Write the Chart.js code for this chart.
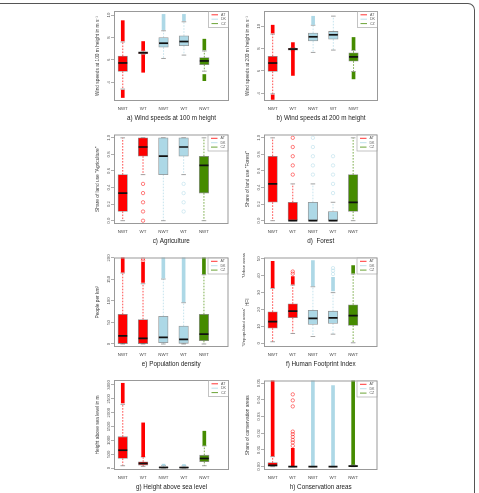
<!DOCTYPE html>
<html>
<head>
<meta charset="utf-8">
<script src="https://cdn.jsdelivr.net/npm/chart.js@4.4.1/dist/chart.umd.min.js"></script>
<style>
  html, body { margin: 0; padding: 0; background: #fff; }
  body { width: 479px; height: 493px; position: relative; overflow: hidden; }
  .frame { position: absolute; left: -20px; top: 3px; width: 495px; height: 520px; box-sizing: border-box;
           border-top: 1.5px solid #555; border-right: 1.5px solid #555; border-top-right-radius: 7px; }
  canvas { position: absolute; }
</style>
</head>
<body>
<div class="frame"></div>
<canvas id="panel-a"></canvas>
<canvas id="panel-b"></canvas>
<canvas id="panel-c"></canvas>
<canvas id="panel-d"></canvas>
<canvas id="panel-e"></canvas>
<canvas id="panel-f"></canvas>
<canvas id="panel-g"></canvas>
<canvas id="panel-h"></canvas>
<script>
const groups = ['NWT', 'WT', 'NWT', 'WT', 'NWT'];
const groupCountry = ['AT', 'AT', 'DK', 'DK', 'CZ'];
const countries = ['AT', 'DK', 'CZ'];

// box: [lower whisker, q1, median, q3, upper whisker] per group
// dense: [group, from, to] -> outliers so packed they read as a solid run
// pts: [group, value] -> single outliers

// a) wind speed 100 m
const windA_box = [
  [3.4, 4.97, 5.73, 6.34, 7.6],
  [6.5, 6.55, 6.64, 6.73, 6.8],
  [6.13, 7.13, 7.49, 8.0, 8.6],
  [6.43, 7.27, 7.64, 8.15, 9.4],
  [5.0, 5.58, 5.91, 6.22, 6.8]
];
const windA_dense = [[0, 7.7, 9.5], [0, 2.65, 3.3], [1, 6.85, 7.64], [1, 4.9, 6.45],
  [2, 8.7, 10.06], [3, 9.5, 10.06], [4, 6.9, 7.85], [4, 4.15, 4.7]];
const windA_pts = [];
const windA_ticks = [4, 6, 8, 10];
const windA_tickText = ['4', '6', '8', '10'];
const windA_lim = [2.34, 10.36];

// b) wind speed 200 m
const windB_box = [
  [3.95, 5.95, 6.71, 7.32, 9.3],
  [7.8, 7.87, 7.96, 8.03, 8.1],
  [7.66, 8.69, 9.06, 9.39, 10.1],
  [7.87, 8.85, 9.24, 9.54, 10.91],
  [5.95, 6.87, 7.26, 7.63, 7.85]
];
const windB_dense = [[0, 9.4, 10.1], [0, 3.45, 3.85], [1, 8.1, 8.54], [1, 5.6, 7.85],
  [2, 10.15, 10.9], [4, 7.9, 9.0], [4, 5.29, 5.89]];
const windB_pts = [];
const windB_ticks = [4, 6, 8, 10];
const windB_tickText = ['4', '6', '8', '10'];
const windB_lim = [3.31, 11.37];

// c) agriculture share
const agri_box = [
  [0, 0.111, 0.333, 0.556, 1.0],
  [0.556, 0.778, 0.889, 1.0, 1.0],
  [0, 0.556, 0.778, 1.0, 1.0],
  [0.556, 0.778, 0.889, 1.0, 1.0],
  [0, 0.333, 0.667, 0.778, 1.0]
];
const agri_dense = [];
const agri_pts = [[1, 0.444], [1, 0.333], [1, 0.222], [1, 0.111], [1, 0.0],
  [3, 0.444], [3, 0.333], [3, 0.222], [3, 0.111]];
const agri_ticks = [0, 0.2, 0.4, 0.6, 0.8, 1.0];
const agri_tickText = ['0.0', '0.2', '0.4', '0.6', '0.8', '1.0'];
const agri_lim = [-0.04, 1.04];

// d) forest share
const forest_box = [
  [0, 0.222, 0.444, 0.778, 1.0],
  [0, 0, 0, 0.222, 0.444],
  [0, 0, 0, 0.222, 0.444],
  [0, 0, 0, 0.111, 0.222],
  [0, 0.111, 0.222, 0.556, 1.0]
];
const forest_dense = [];
const forest_pts = [[1, 0.556], [1, 0.667], [1, 0.778], [1, 0.889], [1, 1.0],
  [2, 0.556], [2, 0.667], [2, 0.778], [2, 0.889], [2, 1.0],
  [3, 0.333], [3, 0.444], [3, 0.556], [3, 0.667], [3, 0.778]];
const forest_ticks = [0, 0.2, 0.4, 0.6, 0.8, 1.0];
const forest_tickText = ['0.0', '0.2', '0.4', '0.6', '0.8', '1.0'];
const forest_lim = [-0.04, 1.04];

// e) population density
const pop_box = [
  [0, 1, 19, 69, 165],
  [0, 1, 13, 57, 140],
  [0, 3, 15.4, 64.5, 151],
  [0, 1.5, 10.8, 41.5, 96],
  [0, 7.6, 23, 69, 161]
];
const pop_dense = [[0, 167, 210], [1, 143, 190], [2, 153, 210], [3, 98, 210], [4, 163, 210]];
const pop_pts = [[1, 194], [1, 198]];
const pop_ticks = [0, 50, 100, 150, 200];
const pop_tickText = ['0', '50', '100', '150', '200'];
const pop_lim = [-7, 201];

// f) human footprint index
const hfi_box = [
  [0.9, 8.9, 12.8, 18.6, 32.6],
  [5.8, 15.1, 19, 23.4, 34.5],
  [4, 11.2, 14.7, 19.5, 33.5],
  [5.4, 11.8, 15.1, 19, 30],
  [0.3, 10.6, 16.4, 22.8, 41]
];
const hfi_dense = [[0, 33, 48.5], [1, 35, 39.5], [2, 34, 49], [3, 31, 39], [4, 41.5, 46]];
const hfi_pts = [[1, 41.2], [1, 42.5], [3, 41], [3, 43], [3, 44.5]];
const hfi_ticks = [0, 10, 20, 30, 40, 50];
const hfi_tickText = ['0', '10', '20', '30', '40', '50'];
const hfi_lim = [-2.2, 50.8];

// g) height above sea level
const elev_box = [
  [83, 346, 643, 1132, 2300],
  [60, 107, 167, 226, 400],
  [0, 5, 20, 40, 90],
  [0, 5, 18, 35, 80],
  [83, 226, 345, 464, 800]
];
const elev_dense = [[0, 2350, 3060], [1, 410, 1630], [2, 95, 140], [3, 85, 125], [4, 820, 1330]];
const elev_pts = [];
const elev_ticks = [0, 500, 1000, 1500, 2000, 2500, 3000];
const elev_tickText = ['0', '500', '1000', '1500', '2000', '2500', '3000'];
const elev_lim = [-71, 3178];

// h) conservation areas share
const cons_box = [
  [0, 0, 0.0008, 0.0024, 0.006],
  [0, 0, 0, 0, 0],
  [0, 0, 0, 0, 0],
  [0, 0, 0, 0, 0],
  [0, 0.0001, 0.0003, 0.0006, 0.0012]
];
const cons_dense = [[0, 0.0065, 0.06], [1, 0.0004, 0.011], [2, 0.0003, 0.06], [3, 0.0003, 0.0486], [4, 0.0013, 0.06]];
const cons_pts = [[1, 0.0125], [1, 0.0145], [1, 0.016], [1, 0.0178], [1, 0.0195], [1, 0.021],
  [1, 0.0361], [1, 0.0397], [1, 0.0433]];
const cons_ticks = [0, 0.01, 0.02, 0.03, 0.04, 0.05];
const cons_tickText = ['0.00', '0.01', '0.02', '0.03', '0.04', '0.05'];
const cons_lim = [-0.002, 0.0516];

const captions = ['a) Wind speeds at 100 m height', 'b) Wind speeds at 200 m height', 'c) Agriculture', 'd)  Forest',
  'e) Population density', 'f) Human Footprint Index', 'g) Height above sea level', 'h) Conservation areas'];
const yTitles = ['Wind speeds at 100 m height in m s\u207B\u00B9', 'Wind speeds at 200 m height in m s\u207B\u00B9',
  'Share of land use "Agriculture"', 'Share of land use "Forest"', 'People per km\u00B2', 'HFI',
  'Height above sea level in m', 'Share of conservation areas'];

const FONT = '"Liberation Sans", Arial, Helvetica, sans-serif';
const countryColor = { AT: '#ff0000', DK: '#add8e6', CZ: '#458b00' };
const colorOf = i => countryColor[groupCountry[i]];

Chart.defaults.font.family = FONT;

const colLeft = [114, 264];
const colWidth = [115, 114];
const rowTop = [11, 134, 257, 380];
const PLOT_H = 90;

function boxPanel(id, col, row, box, dense, pts, ticks, tickText, lim, caption, yTitle, sideNotes) {
  const canvas = document.getElementById(id);
  canvas.width = colWidth[col] + 28;
  canvas.height = PLOT_H + 27;
  canvas.style.left = (colLeft[col] - 24) + 'px';
  canvas.style.top = (rowTop[row] - 4) + 'px';

  const parts = {
    id: 'boxParts',
    beforeDatasetsDraw(chart) {
      const { ctx, chartArea: a, scales: { x, y } } = chart;
      ctx.save();
      ctx.beginPath();
      ctx.rect(a.left, a.top, a.width, a.height);
      ctx.clip();
      box.forEach((b, i) => {
        const px = x.getPixelForValue(i + 1);
        // dashed whiskers
        ctx.strokeStyle = colorOf(i);
        ctx.lineWidth = 0.7;
        ctx.setLineDash([1.6, 1.4]);
        ctx.beginPath();
        ctx.moveTo(px, y.getPixelForValue(b[3]));
        ctx.lineTo(px, y.getPixelForValue(b[4]));
        ctx.moveTo(px, y.getPixelForValue(b[1]));
        ctx.lineTo(px, y.getPixelForValue(b[0]));
        ctx.stroke();
        // staples
        ctx.setLineDash([]);
        ctx.strokeStyle = '#8c8c8c';
        ctx.lineWidth = 0.8;
        ctx.beginPath();
        [b[0], b[4]].forEach(v => {
          const py = y.getPixelForValue(v);
          ctx.moveTo(px - 2.3, py);
          ctx.lineTo(px + 2.3, py);
        });
        ctx.stroke();
      });
      ctx.restore();
    },
    afterDatasetsDraw(chart) {
      const { ctx, chartArea: a, scales: { x, y } } = chart;
      ctx.save();
      ctx.beginPath();
      ctx.rect(a.left, a.top, a.width, a.height);
      ctx.clip();
      ctx.strokeStyle = '#111';
      ctx.lineWidth = 1.7;
      box.forEach((b, i) => {
        const px = x.getPixelForValue(i + 1);
        const py = y.getPixelForValue(b[2]);
        ctx.beginPath();
        ctx.moveTo(px - 4.5, py);
        ctx.lineTo(px + 4.5, py);
        ctx.stroke();
      });
      ctx.restore();
    },
    afterDraw(chart) {
      const { ctx, chartArea: a, scales: { y } } = chart;
      ctx.save();
      // plot frame
      ctx.strokeStyle = '#999';
      ctx.lineWidth = 1;
      ctx.strokeRect(a.left + 0.5, a.top + 0.5, a.width - 1, a.height - 1);

      // y tick labels, rotated like R's las = 0
      ctx.font = '4.3px ' + FONT;
      ctx.fillStyle = '#555';
      ctx.textAlign = 'center';
      ctx.textBaseline = 'middle';
      y.ticks.forEach((t, k) => {
        ctx.save();
        ctx.translate(a.left - 5.6, y.getPixelForValue(t.value));
        ctx.rotate(-Math.PI / 2);
        ctx.fillText(tickText[k], 0, 0);
        ctx.restore();
      });

      if (sideNotes) {
        ctx.font = '4.3px ' + FONT;
        ctx.fillStyle = '#444';
        ctx.save();
        ctx.translate(a.left - 20, a.top - 6);
        ctx.rotate(-Math.PI / 2);
        ctx.textAlign = 'right';
        ctx.fillText(sideNotes[0], 0, 0);
        ctx.restore();
        ctx.save();
        ctx.translate(a.left - 20, a.bottom);
        ctx.rotate(-Math.PI / 2);
        ctx.textAlign = 'left';
        ctx.fillText(sideNotes[1], 0, 0);
        ctx.restore();
      }

      // legend in the top right corner
      const lx = a.right - 21, ly = a.top;
      ctx.fillStyle = '#fff';
      ctx.fillRect(lx, ly + 1, 20, 15);
      ctx.strokeStyle = '#aaa';
      ctx.lineWidth = 0.7;
      ctx.strokeRect(lx + 0.5, ly + 0.5, 20, 16);
      ctx.font = '3.6px ' + FONT;
      ctx.textAlign = 'left';
      countries.forEach((c, k) => {
        const yy = ly + 3.8 + k * 4.4;
        ctx.strokeStyle = countryColor[c];
        ctx.lineWidth = 0.8;
        ctx.beginPath();
        ctx.moveTo(lx + 3.5, yy);
        ctx.lineTo(lx + 10, yy);
        ctx.stroke();
        ctx.fillStyle = '#555';
        ctx.fillText(c, lx + 13, yy);
      });
      ctx.restore();
    }
  };

  new Chart(canvas, {
    type: 'bar',
    data: {
      datasets: [
        {
          type: 'scatter',
          data: pts.map(p => ({ x: p[0] + 1, y: p[1] })),
          pointRadius: 1.7,
          pointBorderWidth: 0.5,
          pointBackgroundColor: 'rgba(0,0,0,0)',
          pointBorderColor: pts.map(p => colorOf(p[0])),
          order: 0
        },
        {
          type: 'bar',
          data: box.map((b, i) => ({ x: i + 1, y: [b[1], b[3]] })),
          backgroundColor: box.map((b, i) => colorOf(i)),
          borderColor: 'rgba(40,40,40,0.5)',
          borderWidth: 0.8,
          borderSkipped: false,
          barThickness: 9.5,
          grouped: false,
          order: 1
        },
        {
          type: 'bar',
          data: dense.map(d => ({ x: d[0] + 1, y: [d[1], d[2]] })),
          backgroundColor: dense.map(d => colorOf(d[0])),
          barThickness: 3,
          grouped: false,
          order: 2
        }
      ]
    },
    options: {
      responsive: false,
      animation: false,
      events: [],
      layout: { padding: { left: 0, top: 4, right: 4, bottom: 2 } },
      plugins: {
        legend: { display: false },
        tooltip: { enabled: false },
        title: {
          display: true,
          position: 'bottom',
          fullSize: false,
          text: caption,
          color: '#222',
          font: { size: 6.3, weight: 'normal', lineHeight: 8 / 6.3 },
          padding: { top: 2, bottom: 0 }
        }
      },
      scales: {
        x: {
          type: 'linear',
          min: 0.57,
          max: 6.21,
          offset: false,
          afterBuildTicks: s => { s.ticks = groups.map((g, i) => ({ value: i + 1 })); },
          afterFit: s => { s.height = 11; },
          grid: { display: false, drawTicks: false, offset: false },
          border: { display: false },
          ticks: {
            callback: v => groups[v - 1] || '',
            color: '#444',
            font: { size: 4.4, lineHeight: 1.2 },
            padding: 5.6,
            maxRotation: 0,
            minRotation: 0,
            autoSkip: false
          }
        },
        y: {
          type: 'linear',
          min: lim[0],
          max: lim[1],
          beginAtZero: false,
          afterBuildTicks: s => { s.ticks = ticks.map(v => ({ value: v })); },
          afterFit: s => { s.width = 24; },
          grid: { drawOnChartArea: false, drawTicks: true, tickLength: 3, color: '#999', lineWidth: 0.8 },
          border: { display: false },
          ticks: { display: false },
          title: {
            display: true,
            text: yTitle,
            color: '#444',
            font: { size: 4.8, lineHeight: 1.2 },
            padding: { top: 4.3, bottom: 0 }
          }
        }
      }
    },
    plugins: [parts]
  });
}

boxPanel('panel-a', 0, 0, windA_box, windA_dense, windA_pts, windA_ticks, windA_tickText, windA_lim, captions[0], yTitles[0]);
boxPanel('panel-b', 1, 0, windB_box, windB_dense, windB_pts, windB_ticks, windB_tickText, windB_lim, captions[1], yTitles[1]);
boxPanel('panel-c', 0, 1, agri_box, agri_dense, agri_pts, agri_ticks, agri_tickText, agri_lim, captions[2], yTitles[2]);
boxPanel('panel-d', 1, 1, forest_box, forest_dense, forest_pts, forest_ticks, forest_tickText, forest_lim, captions[3], yTitles[3]);
boxPanel('panel-e', 0, 2, pop_box, pop_dense, pop_pts, pop_ticks, pop_tickText, pop_lim, captions[4], yTitles[4]);
boxPanel('panel-f', 1, 2, hfi_box, hfi_dense, hfi_pts, hfi_ticks, hfi_tickText, hfi_lim, captions[5], yTitles[5],
  ['"Urban areas"', '"Unpopulated areas"']);
boxPanel('panel-g', 0, 3, elev_box, elev_dense, elev_pts, elev_ticks, elev_tickText, elev_lim, captions[6], yTitles[6]);
boxPanel('panel-h', 1, 3, cons_box, cons_dense, cons_pts, cons_ticks, cons_tickText, cons_lim, captions[7], yTitles[7]);
</script>
</body>
</html>
